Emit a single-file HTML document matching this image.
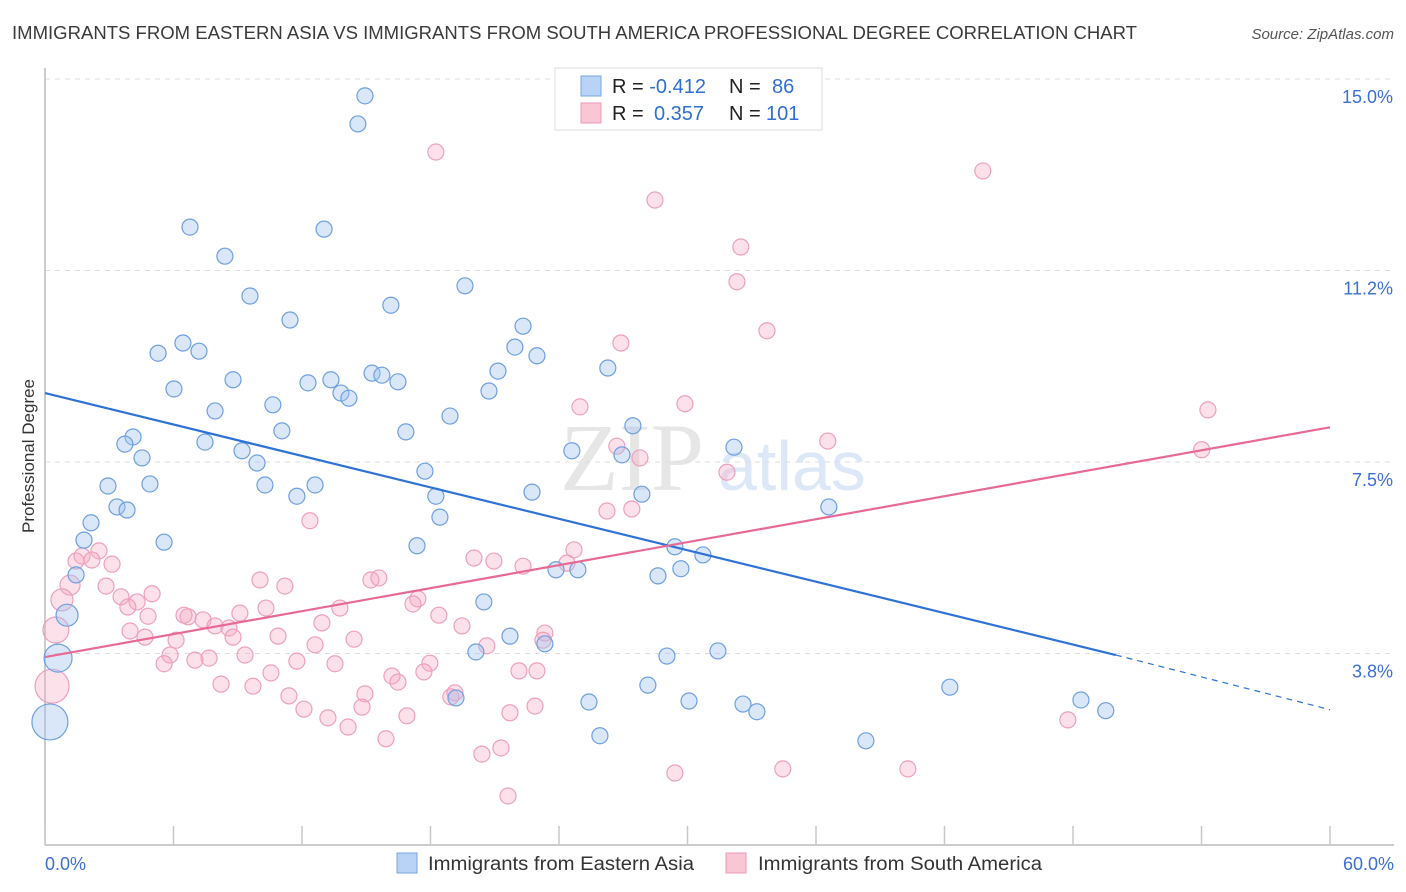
<!DOCTYPE html>
<html><head><meta charset="utf-8">
<style>
body{margin:0;background:#fff;font-family:"Liberation Sans",sans-serif;}
#wrap{position:relative;width:1406px;height:892px;overflow:hidden;}
</style></head>
<body>
<div id="wrap">
<svg id="chart" width="1406" height="892" xmlns="http://www.w3.org/2000/svg">
<text x="12" y="39" font-size="18" fill="#3a3a3a" textLength="1125" lengthAdjust="spacingAndGlyphs">IMMIGRANTS FROM EASTERN ASIA VS IMMIGRANTS FROM SOUTH AMERICA PROFESSIONAL DEGREE CORRELATION CHART</text>
<text x="1394" y="39" font-size="15" font-style="italic" fill="#555" text-anchor="end">Source: ZipAtlas.com</text>
<text x="34" y="456" font-size="17" fill="#333" text-anchor="middle" transform="rotate(-90 34 456)">Professional Degree</text>
<text x="560" y="490" font-size="96" fill="#e6e6e6" font-family="Liberation Serif,serif">ZIP</text>
<text x="718" y="490" font-size="70" fill="#dce8f7">atlas</text>
<g id="grid"></g>
<g id="axes"></g>
<g id="pts"></g>
<g id="lines"></g>
<g>
<rect x="555" y="68" width="267" height="62" fill="#fff" stroke="#ddd"/>
<rect x="581" y="76" width="20" height="20" fill="#b8d3f5" stroke="#7aa7e0"/>
<rect x="581" y="103" width="20" height="20" fill="#f9c6d6" stroke="#ec9bb8"/>
<text x="612" y="93" font-size="20" fill="#222">R = <tspan fill="#2f6fd0">-0.412</tspan><tspan x="729">N = </tspan><tspan x="772" fill="#2f6fd0">86</tspan></text>
<text x="612" y="120" font-size="20" fill="#222">R = <tspan x="654" fill="#2f6fd0">0.357</tspan><tspan x="729">N = </tspan><tspan x="766" fill="#2f6fd0">101</tspan></text>
</g>
<g>
<rect x="397" y="853" width="20" height="20" fill="#b8d3f5" stroke="#7aa7e0"/>
<text x="428" y="870" font-size="19" fill="#333" textLength="266" lengthAdjust="spacingAndGlyphs">Immigrants from Eastern Asia</text>
<rect x="726" y="853" width="20" height="20" fill="#f9c6d6" stroke="#ec9bb8"/>
<text x="758" y="870" font-size="19" fill="#333" textLength="284" lengthAdjust="spacingAndGlyphs">Immigrants from South America</text>
</g>
</svg>
</div>
<script>
const yTicks=[15.0,11.25,7.5,3.75];
const yTickLabels=["15.0%","11.2%","7.5%","3.8%"];
const xTicks=[0,6,12,18,24,30,36,42,48,54,60];
const xTickLabels=["0.0%","60.0%"];
const blueX=[14.94,14.61,6.77,13.03,8.40,19.61,9.57,16.15,11.44,22.32,6.44,5.28,7.19,21.94,22.97,26.28,15.27,15.73,21.15,8.78,12.28,13.35,16.48,6.02,20.73,13.82,14.19,7.94,10.64,18.91,27.45,11.06,16.85,4.11,3.73,7.47,9.20,32.17,24.60,26.94,4.53,9.90,17.74,4.90,2.94,10.27,12.61,11.76,18.25,22.74,27.87,3.36,3.83,36.60,18.44,2.15,5.56,1.82,17.37,29.41,30.72,1.45,23.86,24.88,29.69,28.62,20.49,1.03,21.71,23.34,20.12,29.04,31.42,0.61,28.15,42.25,19.19,25.40,30.07,48.37,32.59,33.24,49.53,25.91,38.33,0.23];
const blueY=[14.67,14.12,12.10,12.06,11.53,10.95,10.75,10.57,10.28,10.16,9.83,9.63,9.67,9.75,9.58,9.34,9.24,9.20,9.28,9.11,9.05,9.11,9.07,8.93,8.89,8.85,8.75,8.50,8.62,8.40,8.21,8.11,8.09,7.99,7.85,7.89,7.72,7.79,7.72,7.64,7.58,7.48,7.32,7.07,7.03,7.05,7.05,6.83,6.83,6.91,6.87,6.62,6.56,6.62,6.42,6.31,5.93,5.97,5.86,5.84,5.68,5.29,5.39,5.39,5.41,5.27,4.76,4.50,4.09,3.94,3.78,3.70,3.80,3.66,3.13,3.09,2.88,2.80,2.82,2.84,2.76,2.61,2.63,2.14,2.04,2.41];
const blueBig=[[67,11],[73,14],[85,18]];
const pinkX=[18.25,43.79,28.48,32.49,32.31,33.71,26.89,24.98,29.88,54.30,36.55,26.70,54.01,27.78,31.84,12.37,26.24,27.40,24.70,20.03,20.96,24.37,22.32,1.73,2.52,3.13,2.19,1.45,10.04,11.20,15.22,15.59,2.85,1.17,5.00,3.55,4.30,0.79,17.41,10.32,9.10,13.77,17.18,6.68,6.49,7.38,18.39,3.87,4.81,12.93,19.47,0.51,3.97,7.94,8.59,4.67,6.12,8.78,10.88,14.43,23.34,20.63,23.25,5.84,12.61,9.34,7.66,5.56,7.00,11.76,13.54,17.97,17.69,22.13,22.97,10.55,16.20,16.48,8.22,9.71,0.33,14.94,11.39,18.95,19.14,12.09,14.80,22.88,21.71,16.90,13.21,14.15,47.76,15.92,21.29,20.40,29.41,34.45,40.29,21.62];
const pinkY=[13.57,13.20,12.63,11.71,11.03,10.07,9.83,8.58,8.64,8.52,7.91,7.81,7.74,7.58,7.30,6.35,6.54,6.58,5.78,5.62,5.56,5.52,5.46,5.66,5.76,5.50,5.58,5.56,5.19,5.07,5.19,5.23,5.07,5.09,4.92,4.86,4.76,4.80,4.82,4.64,4.54,4.64,4.72,4.47,4.50,4.41,4.50,4.66,4.48,4.35,4.29,4.21,4.19,4.29,4.25,4.07,4.01,4.07,4.09,4.03,4.15,3.90,4.01,3.72,3.92,3.72,3.66,3.55,3.62,3.60,3.55,3.56,3.39,3.41,3.41,3.37,3.31,3.19,3.15,3.11,3.11,2.96,2.92,2.90,2.98,2.66,2.70,2.72,2.59,2.53,2.49,2.31,2.45,2.08,1.90,1.78,1.41,1.49,1.49,0.96];
const pinkBig=[[33,10],[37,11],[51,13],[80,17]];
const blueTrend=[[0,8.85],[50,3.72],[60,2.65]];
const pinkTrend=[[0,3.68],[60,8.18]];

const NS="http://www.w3.org/2000/svg";
const X0=45,X1=1330,YT=79,YB=845;
function sx(v){return X0+(v/60)*(X1-X0);}
function sy(v){return YB-(v/15)*(YB-YT);}
function mk(tag,attrs,parent){const e=document.createElementNS(NS,tag);for(const k in attrs)e.setAttribute(k,attrs[k]);parent.appendChild(e);return e;}
const grid=document.getElementById('grid'),axes=document.getElementById('axes'),pts=document.getElementById('pts'),lines=document.getElementById('lines');
yTicks.forEach((t,i)=>{
  const l=mk('line',{x1:X0,x2:1394,y1:sy(t),y2:sy(t),stroke:'#dcdcdc','stroke-dasharray':'5,5'},grid);
  
  
  const tx=mk('text',{x:1393,y:sy(t)+24,'font-size':18,fill:'#3b6fd4','text-anchor':'end'},grid);
  tx.textContent=yTickLabels[i];
  
  
});
const ax=mk('line',{x1:X0,x2:1394,y1:YB,y2:YB,stroke:'#bbb','stroke-width':1.5},axes);


const ay=mk('line',{x1:X0,x2:X0,y1:68,y2:YB,stroke:'#bbb','stroke-width':1.5},axes);


xTicks.forEach(t=>{
  const l=mk('line',{x1:sx(t),x2:sx(t),y1:826,y2:YB,stroke:'#c8c8c8','stroke-width':1.5},axes);
  
  
});
const xl0=mk('text',{x:45,y:870,'font-size':18,fill:'#3b6fd4'},axes);xl0.textContent=xTickLabels[0];


const xl1=mk('text',{x:1394,y:870,'font-size':18,fill:'#3b6fd4','text-anchor':'end'},axes);xl1.textContent=xTickLabels[1];



function drawSeries(xs,ys,big,fill,stroke,name){
  const rmap={};big.forEach(b=>rmap[b[0]]=b[1]);
  xs.forEach((v,i)=>{
    const c=mk('circle',{cx:sx(v),cy:sy(ys[i]),r:rmap[i]||8,fill:fill,stroke:stroke,'stroke-width':1.2},pts);
    
    
  });
}
drawSeries(pinkX,pinkY,pinkBig,'rgba(245,170,195,0.35)','#eda0bc','point-south-america');
drawSeries(blueX,blueY,blueBig,'rgba(160,196,240,0.4)','#6f9fe0','point-eastern-asia');

const bl=mk('line',{x1:sx(blueTrend[0][0]),y1:sy(blueTrend[0][1]),x2:sx(blueTrend[1][0]),y2:sy(blueTrend[1][1]),stroke:'#2f72d6','stroke-width':2.2},lines);


const bd=mk('line',{x1:sx(blueTrend[1][0]),y1:sy(blueTrend[1][1]),x2:sx(blueTrend[2][0]),y2:sy(blueTrend[2][1]),stroke:'#2f72d6','stroke-width':1.2,'stroke-dasharray':'6,5'},lines);


const pl=mk('line',{x1:sx(pinkTrend[0][0]),y1:sy(pinkTrend[0][1]),x2:sx(pinkTrend[1][0]),y2:sy(pinkTrend[1][1]),stroke:'#e76a96','stroke-width':2.2},lines);


</script>
</body></html>
